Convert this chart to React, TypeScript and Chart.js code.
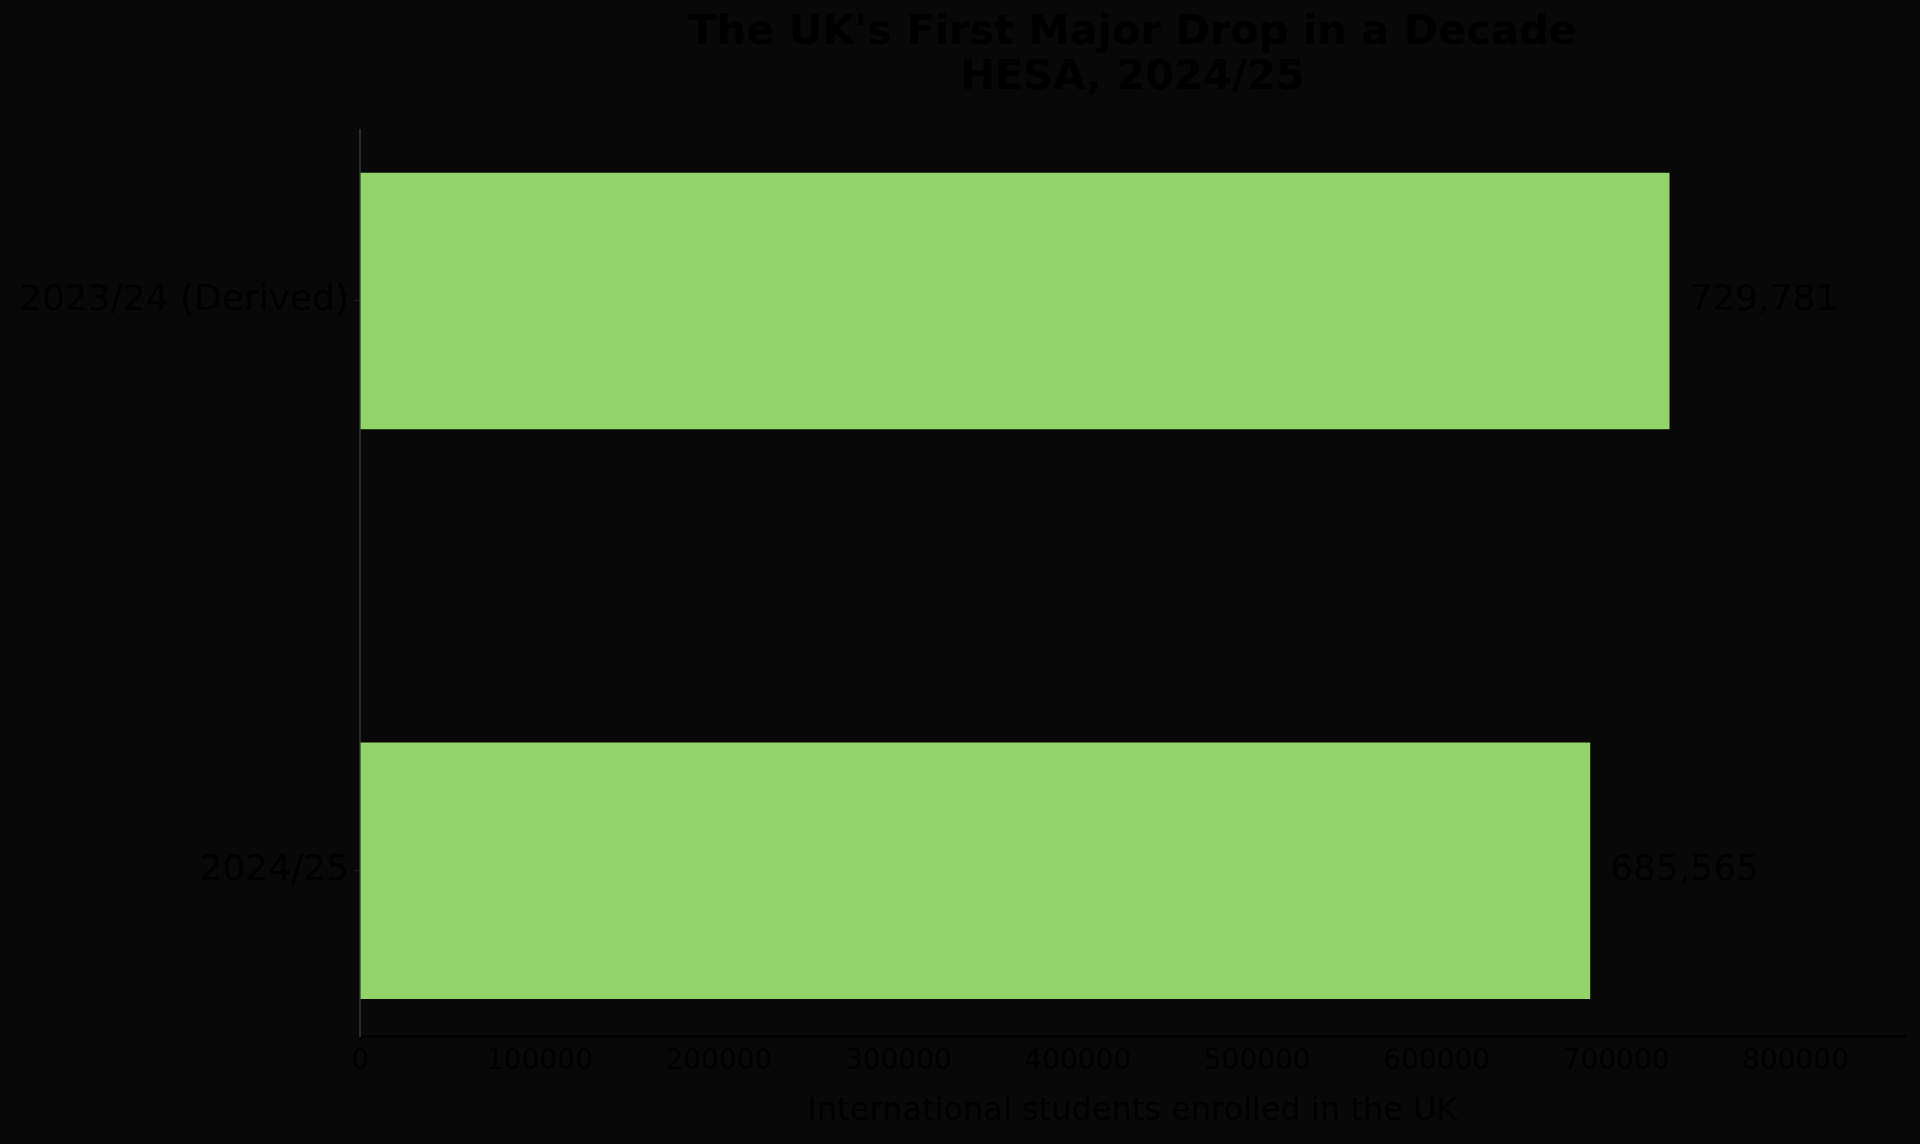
import React, { useEffect, useRef } from "react";
import { Chart, registerables } from "chart.js";

Chart.register(...registerables);

const categories = ["2023/24 (Derived)", "2024/25"];
const students = [729781, 685565];
const xTicks = [0, 100000, 200000, 300000, 400000, 500000, 600000, 700000, 800000];
const titleLines = ["The UK's First Major Drop in a Decade", "HESA, 2024/25"];
const xAxisTitle = "International students enrolled in the UK";

const BG = "#080808";
const BAR = "rgb(146,212,106)";
const FONT = "'DejaVu Sans', sans-serif";

const valueLabels = {
  id: "valueLabels",
  afterDatasetsDraw(chart: any) {
    const ctx = chart.ctx;
    const meta = chart.getDatasetMeta(0);
    ctx.save();
    ctx.font = `36px ${FONT}`;
    ctx.fillStyle = "#000";
    ctx.textAlign = "left";
    ctx.textBaseline = "middle";
    meta.data.forEach((el: any, i: number) => {
      ctx.fillText(students[i].toLocaleString("en-US"), el.x + 20, el.y);
    });
    ctx.restore();
  },
};

// Title centred over the plot area (as in the reference)
const axesTitle = {
  id: "axesTitle",
  afterDraw(chart: any) {
    const ctx = chart.ctx;
    const { left, right } = chart.chartArea;
    const cx = (left + right) / 2;
    ctx.save();
    ctx.font = `bold 41.5px ${FONT}`;
    ctx.fillStyle = "#000";
    ctx.textAlign = "center";
    ctx.textBaseline = "middle";
    ctx.fillText(titleLines[0], cx, 33);
    ctx.fillText(titleLines[1], cx, 78);
    ctx.restore();
  },
};

const bgPlugin = {
  id: "bgFill",
  beforeDraw(chart: any) {
    const ctx = chart.ctx;
    ctx.save();
    ctx.fillStyle = BG;
    ctx.fillRect(0, 0, chart.width, chart.height);
    ctx.restore();
  },
};

export default function App() {
  const ref = useRef<HTMLCanvasElement>(null);
  useEffect(() => {
    document.body.style.margin = "0";
    document.body.style.background = BG;
    const chart = new Chart(ref.current!, {
      type: "bar",
      data: {
        datasets: [
          {
            data: students.map((v, i) => ({ x: v, y: i })),
            backgroundColor: BAR,
            borderWidth: 0,
            categoryPercentage: 1,
            barPercentage: 0.45,
          },
        ],
      },
      plugins: [bgPlugin, valueLabels, axesTitle],
      options: {
        indexAxis: "y",
        animation: false,
        responsive: false,
        maintainAspectRatio: false,
        layout: { padding: { left: 13, right: 15, top: 130, bottom: 3 } },
        plugins: {
          legend: { display: false },
          tooltip: { enabled: false },
          title: { display: false },
        },
        scales: {
          x: {
            type: "linear",
            min: 0,
            max: 861000,
            afterBuildTicks: (s: any) => {
              s.ticks = xTicks.map((v) => ({ value: v }));
            },
            ticks: {
              color: "#000",
              font: { family: FONT, size: 28 },
              padding: 4,
              callback: (v: any) => String(v),
              maxRotation: 0,
              autoSkip: false,
            },
            grid: { drawOnChartArea: false, drawTicks: true, tickLength: 5, color: "#000" },
            border: { display: true, color: "#000", width: 3 },
            title: {
              display: true,
              text: xAxisTitle,
              color: "#000",
              font: { family: FONT, size: 32 },
              padding: { top: 10, bottom: 10 },
            },
          },
          y: {
            type: "linear",
            min: -0.3,
            max: 1.29,
            reverse: true,
            offset: false,
            afterBuildTicks: (s: any) => {
              s.ticks = categories.map((_, i) => ({ value: i }));
            },
            ticks: {
              color: "#000",
              font: { family: FONT, size: 36 },
              padding: 6,
              callback: (v: any) => categories[v as number] ?? "",
              autoSkip: false,
            },
            grid: { offset: false, drawOnChartArea: false, drawTicks: true, tickLength: 5, color: "#222" },
            border: { display: true, color: "#2a2a2a", width: 2 },
          },
        },
      },
    } as any);
    return () => chart.destroy();
  }, []);
  return (
    <div style={{ width: 1920, height: 1144, background: BG }}>
      <canvas ref={ref} width={1920} height={1144} style={{ width: 1920, height: 1144, display: "block" }} />
    </div>
  );
}
